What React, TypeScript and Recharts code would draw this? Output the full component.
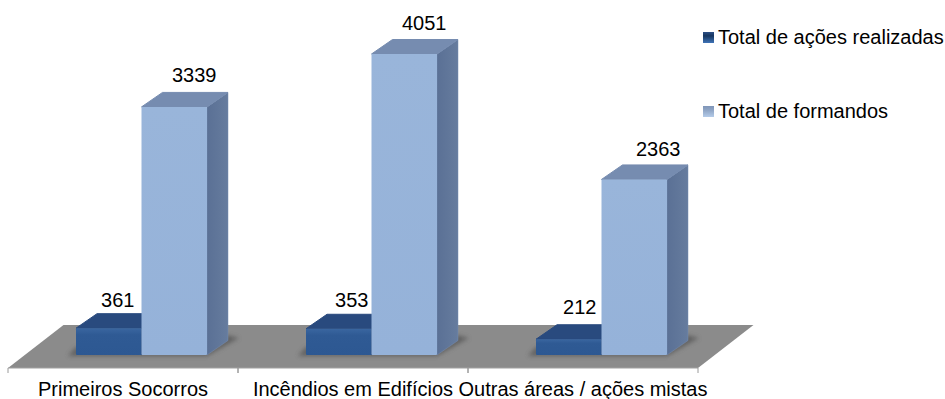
import React from "react";
import { BarChart, Bar, XAxis, YAxis, Legend, LabelList, ReferenceArea } from "recharts";

const categories = ["Primeiros Socorros", "Incêndios em Edifícios", "Outras áreas / ações mistas"];
const acoes = [361, 353, 212];
const formandos = [3339, 4051, 2363];
const seriesNames = ["Total de ações realizadas", "Total de formandos"];
const data = categories.map((name, i) => ({ name, acoes: acoes[i], formandos: formandos[i] }));

const W = 945, H = 399;
const PLOT_LEFT = 8, PLOT_RIGHT = 698, AXIS_Y = 368;
const BAND = (PLOT_RIGHT - PLOT_LEFT) / categories.length;
const BAR_W = 65.5;
const SHIFT = 18;          // the 3D front plane sits right of the band centre
const DX = 21, DY = 14.5;  // bar depth
const FONT = "'Liberation Sans', Arial, sans-serif";
const FS = 20;

const dark = { front: "url(#gDark)", top: "#294a7e", side: "#264a7c" };
const light = { front: "url(#gLight)", top: "#768cb0", side: "url(#gSide)" };

function Box({ x, y, width, height, c }: any) {
  const X = x + SHIFT;
  const b = y + height;
  const r = X + width;
  return (
    <g strokeLinejoin="round">
      <polygon points={`${r},${y} ${r + DX},${y - DY} ${r + DX},${b - DY} ${r},${b}`} fill={c.side} stroke={c.top} strokeWidth={0.5} />
      <polygon points={`${X},${y} ${X + DX},${y - DY} ${r + DX},${y - DY} ${r},${y}`} fill={c.top} stroke={c.top} strokeWidth={1} />
      <rect x={X} y={y} width={width} height={height} rx={1} fill={c.front} />
    </g>
  );
}

function DarkBar(p: any) {
  const X = p.x + SHIFT, b = p.y + p.height, e = X + 2 * p.width;
  return (
    <g>
      <polygon points={`${X - 8},${b + 1} ${e},${b + 1} ${e + 32},${b - 17} ${e + 20},${b - 20} ${X},${b - 8}`} fill="#555" opacity={0.75} filter="url(#blur)" />
      <Box {...p} c={dark} />
    </g>
  );
}
const LightBar = (p: any) => <Box {...p} c={light} />;

function Floor({ x, y, width, height }: any) {
  const b = y + height;
  const d = 55.5;
  return <polygon points={`${x},${b} ${x + d},${y} ${x + width + d},${y} ${x + width},${b}`} fill="#8b8b8b" />;
}

function CatTick({ x, y, payload }: any) {
  return (
    <g>
      <line x1={x - BAND / 2} x2={x - BAND / 2} y1={AXIS_Y} y2={AXIS_Y + 5} stroke="#9a9a9a" />
      <line x1={x + BAND / 2} x2={x + BAND / 2} y1={AXIS_Y} y2={AXIS_Y + 5} stroke="#9a9a9a" />
      <text x={x} y={y + 20} textAnchor="middle" fontFamily={FONT} fontSize={FS} fill="#000">{payload.value}</text>
    </g>
  );
}

const makeLabel = (dx: number[], dy: number[]) => (p: any) => (
  <text x={p.x + p.width / 2 + SHIFT + dx[p.index]} y={p.y - dy[p.index]} textAnchor="middle" fontFamily={FONT} fontSize={FS} fill="#000">{p.value}</text>
);

function LegendBox({ payload }: any) {
  return (
    <div style={{ position: "relative", fontFamily: FONT, fontSize: FS, color: "#000", height: 130 }}>
      {(payload || []).map((e: any, i: number) => (
        <div key={e.value} style={{ position: "absolute", left: 5, top: i * 74, whiteSpace: "nowrap", display: "flex", alignItems: "center", lineHeight: "22px" }}>
          <span style={{ display: "inline-block", width: 11, height: 11, marginRight: 4, background: i === 0 ? "linear-gradient(#2c4f86 0%, #17365f 35%, #3f74b8 100%)" : "linear-gradient(#7f95b8 0%, #8ea4c4 35%, #b4cbe9 100%)" }} />
          {e.value}
        </div>
      ))}
    </div>
  );
}

export default function App() {
  return (
    <div style={{ position: "absolute", left: 0, top: 0, width: W, height: H, background: "#fff" }}>
      <BarChart width={W} height={H} data={data} barSize={BAR_W} barGap={0}
        margin={{ top: 0, right: 0, bottom: 0, left: PLOT_LEFT }}>
        <defs>
          <linearGradient id="gDark" x1="0" y1="0" x2="0" y2="1">
            <stop offset="0" stopColor="#3a66a0" />
            <stop offset="0.25" stopColor="#2f5a94" />
            <stop offset="1" stopColor="#2d5892" />
          </linearGradient>
          <linearGradient id="gLight" x1="0" y1="0" x2="0" y2="1">
            <stop offset="0" stopColor="#99b5da" />
            <stop offset="1" stopColor="#95b2d9" />
          </linearGradient>
          <linearGradient id="gSide" x1="0" y1="0" x2="1" y2="0">
            <stop offset="0" stopColor="#5a7095" />
            <stop offset="1" stopColor="#667c9e" />
          </linearGradient>
          <filter id="blur" x="-20%" y="-50%" width="140%" height="200%">
            <feGaussianBlur stdDeviation="2" />
          </filter>
        </defs>
        <XAxis dataKey="name" height={H - AXIS_Y} interval={0} axisLine={{ stroke: "#a0a0a0" }} tickLine={false} tick={CatTick} />
        <YAxis hide domain={[-175, 4778]} />
        <ReferenceArea y1={-175} y2={404} ifOverflow="visible" shape={Floor} />
        <Legend layout="vertical" align="right" verticalAlign="top" width={W - PLOT_RIGHT} wrapperStyle={{ top: 26 }} content={LegendBox} />
        <Bar dataKey="acoes" name={seriesNames[0]} fill="#2d5892" shape={DarkBar} isAnimationActive={false}>
          <LabelList dataKey="acoes" content={makeLabel([9, 13, 11], [21, 22, 25])} />
        </Bar>
        <Bar dataKey="formandos" name={seriesNames[1]} fill="#95b2d9" shape={LightBar} isAnimationActive={false}>
          <LabelList dataKey="formandos" content={makeLabel([20, 20, 24], [25, 24, 23])} />
        </Bar>
      </BarChart>
    </div>
  );
}
